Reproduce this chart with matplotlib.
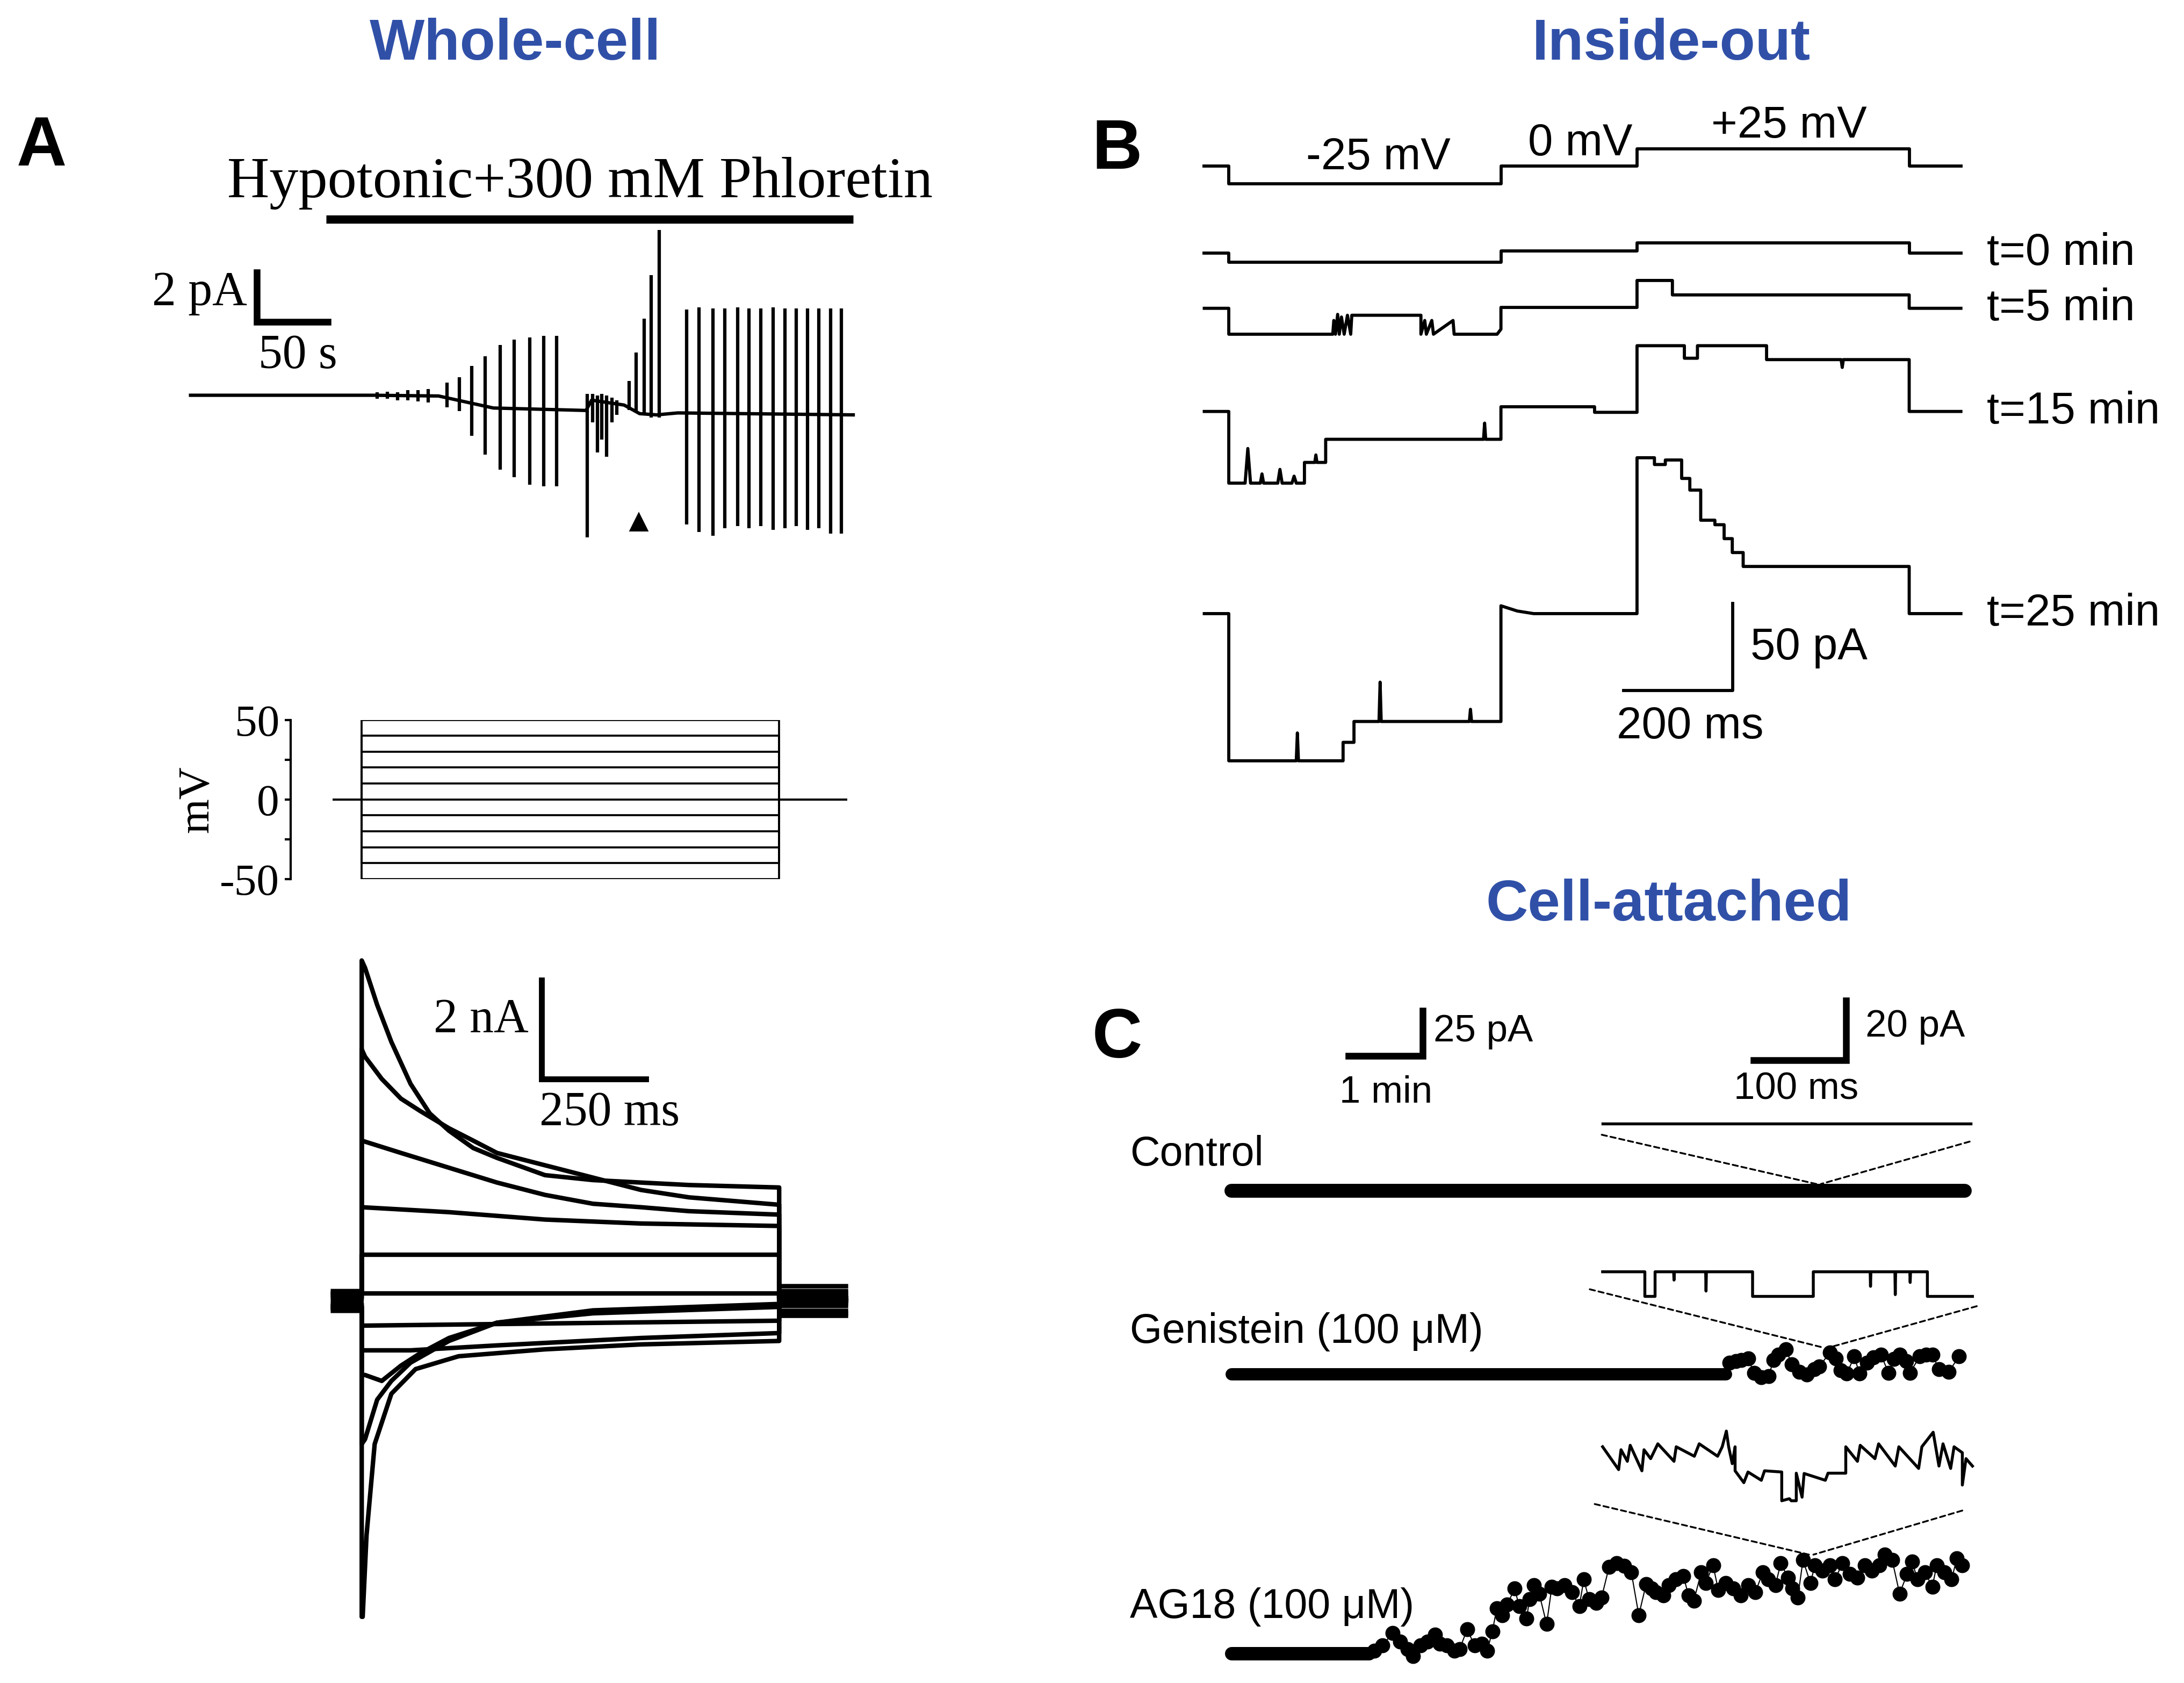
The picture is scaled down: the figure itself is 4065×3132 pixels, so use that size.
"""Patch-clamp figure: whole-cell, inside-out and cell-attached recordings."""

import matplotlib

matplotlib.use("Agg")
import matplotlib.pyplot as plt
from matplotlib.patches import ConnectionPatch

plt.rcParams["axes.unicode_minus"] = False

SERIF = "Liberation Serif"
SANS = "Liberation Sans"
BLUE = "#3050a8"

# ---------------- Panel A (top): ramp currents during hypotonic + phloretin (s, pA)
base_t = [0, 129.5, 175.6, 214.4, 280, 284, 307, 318, 330, 345, 469.2]
base_i = [0, 0, -0.03, -0.52, -0.62, -0.2, -0.4, -0.75, -0.8, -0.72, -0.8]

ramp_t = [132, 139.3, 146.5, 153.8, 161.1, 168.4,
          181.5, 190.2, 198.9, 208.6, 219.3, 229, 240.2, 249.9, 259.1,
          280.9, 284.8, 288.2, 291.1, 294.5, 298.4, 301.8,
          310.5, 315.4, 321.2, 326.1, 331.9,
          351.3, 360, 369.7, 378.4, 387.2, 395.4, 403.7, 412.4, 420.7, 428.9, 436.7, 444.9, 453.2, 460.9]
ramp_hi = [0.12, 0.15, 0.12, 0.2, 0.2, 0.25,
           0.51, 0.74, 1.2, 1.58, 2.05, 2.28, 2.35, 2.43, 2.43,
           0.05, 0.05, 0.0, 0.05, 0.0, -0.1, -0.2,
           0.58, 1.74, 3.12, 4.9, 6.74,
           3.5, 3.58, 3.55, 3.55, 3.58, 3.55, 3.55, 3.58, 3.55, 3.55, 3.55, 3.55, 3.55, 3.55]
ramp_lo = [-0.15, -0.15, -0.2, -0.2, -0.25, -0.3,
           -0.49, -0.65, -1.65, -2.42, -3.03, -3.34, -3.65, -3.72, -3.72,
           -5.8, -1.1, -2.34, -1.8, -2.5, -1.1, -0.8,
           -0.6, -0.7, -0.8, -0.9, -0.9,
           -5.26, -5.57, -5.72, -5.42, -5.34, -5.42, -5.34, -5.49, -5.42, -5.34, -5.49, -5.42, -5.65, -5.65]
drug_on = (96.1, 469.2)
marker_t, marker_i = 317.3, -5.18

# ---------------- Panel A (middle): voltage steps (ms, mV)
step_mv = [-50, -40, -30, -20, -10, 0, 10, 20, 30, 40, 50]

# ---------------- Panel A (bottom): current family (ms, nA), one trace per step
t_p50 = [0, 8, 37, 71, 117, 163, 209, 267, 324, 439, 554, 669, 784, 1000]
i_p50 = [6.9, 6.75, 6.0, 5.25, 4.4, 3.8, 3.45, 3.1, 2.9, 2.55, 2.45, 2.4, 2.35, 2.3]
t_p40 = [0, 8, 48, 94, 140, 209, 267, 324, 439, 554, 669, 784, 1000]
i_p40 = [5.1, 4.95, 4.5, 4.1, 3.85, 3.5, 3.25, 3.0, 2.75, 2.5, 2.25, 2.1, 1.95]
t_p30 = [0, 94, 209, 324, 439, 554, 669, 784, 1000]
i_p30 = [3.25, 3.0, 2.7, 2.4, 2.15, 1.97, 1.9, 1.82, 1.75]
t_p20 = [0, 209, 439, 669, 1000]
i_p20 = [1.9, 1.8, 1.65, 1.57, 1.52]
t_p10 = [0, 1000]
i_p10 = [0.94, 0.94]
t_0 = [0, 1000]
i_0 = [0.15, 0.15]
t_m10 = [0, 1000]
i_m10 = [-0.5, -0.4]
t_m20 = [0, 117, 324, 669, 1000]
i_m20 = [-1.0, -1.0, -0.9, -0.75, -0.65]
t_m30 = [0, 8, 48, 94, 140, 209, 324, 554, 1000]
i_m30 = [-1.5, -1.5, -1.62, -1.31, -1.06, -0.75, -0.44, -0.19, -0.06]
t_m40 = [0, 8, 37, 71, 117, 209, 324, 554, 1000]
i_m40 = [-2.9, -2.8, -2.0, -1.62, -1.25, -0.81, -0.44, -0.25, -0.12]
t_m50 = [0, 2.3, 11.5, 31, 71, 129, 232, 439, 669, 1000]
i_m50 = [-6.4, -6.4, -4.75, -2.9, -1.88, -1.38, -1.12, -0.98, -0.88, -0.81]
hold_pre = [-0.12, -0.2, -0.15, -0.1, -0.05, 0.0, 0.1, 0.05, 0.12, 0.15, 0.2]
hold_post = [-0.3, -0.25, -0.2, -0.1, -0.05, 0.0, 0.05, 0.1, 0.15, 0.2, 0.3]

# ---------------- Panel B: inside-out patch (ms, mV / pA)
b_proto_t = [-45, 0, 0, 500, 500, 750, 750, 1250, 1250, 1345]
b_proto_v = [0, 0, -25, -25, 0, 0, 25, 25, 0, 0]

b0_t = [-45, 0, 0, 500, 500, 750, 750, 1250, 1250, 1345]
b0_i = [0, 0, -5.3, -5.3, 1.3, 1.3, 5.9, 5.9, 0, 0]
b5_t = [-45, 0, 0, 191, 193, 196, 200, 203, 207, 212, 218, 224, 226, 353, 353, 360, 363, 373, 376,
        412, 414, 493, 500, 500, 750, 750, 815, 815, 1250, 1250, 1345]
b5_i = [0, 0, -14.9, -14.9, -7, -14.9, -3.5, -14.9, -5, -14.9, -4, -14.9, -4, -4, -14.9, -7, -14.9,
        -7, -14.9, -7, -14.9, -14.9, -12, 0.5, 0.5, 16, 16, 7.7, 7.7, 0, 0]
b15_t = [-45, 0, 0, 30, 35, 40, 58, 61, 64, 90, 94, 98, 116, 120, 124, 139, 139, 158, 160, 162, 178,
         178, 468, 470, 472, 500, 500, 672, 672, 750, 750, 837, 837, 861, 861, 988, 988, 1125, 1127,
         1129, 1250, 1250, 1345]
b15_i = [0, 0, -41.2, -41.2, -21.3, -41.2, -41.2, -35.9, -41.2, -41.2, -33.3, -41.2, -41.2, -37.2,
         -41.2, -41.2, -29.3, -29.3, -25, -29.3, -29.3, -16, -16, -6.7, -16, -16, 2.7, 2.7, -0.5,
         -0.5, 37.8, 37.8, 30.6, 30.6, 37.8, 37.8, 29.8, 29.8, 25.3, 29.8, 29.8, 0, 0]
b25_t = [-45, 0, 0, 124, 126, 128, 210, 210, 230, 230, 276, 278, 280, 442, 444, 446, 500, 500, 530,
         560, 750, 750, 782, 782, 802, 802, 832, 832, 847, 847, 867, 867, 893, 893, 910, 910, 925,
         925, 945, 945, 1250, 1250, 1345]
b25_i = [0, 0, -84.6, -84.6, -68.6, -84.6, -84.6, -74, -74, -62, -62, -39.4, -62, -62, -55, -62, -62,
         4.5, 1.5, 0, 0, 89.6, 89.6, 85.7, 85.7, 88.3, 88.3, 77.7, 77.7, 71, 71, 53.7, 53.7, 51.1,
         51.1, 43.1, 43.1, 35.1, 35.1, 27.1, 27.1, 0, 0]
b_labels = ["t=0 min", "t=5 min", "t=15 min", "t=25 min"]

# ---------------- Panel C: cell-attached (min, pA) and zoomed sweeps (ms, pA)
c_names = ["Control", "Genistein (100 \u03bcM)", "AG18 (100 \u03bcM)"]
c_flat_end = [9.87, 6.65, 1.85]
gen_t = [6.70, 6.79, 6.86, 6.95, 7.03, 7.13, 7.23, 7.29, 7.36, 7.46, 7.54, 7.64, 7.74, 7.84, 7.91,
         8.05, 8.13, 8.20, 8.28, 8.38, 8.45, 8.55, 8.64, 8.74, 8.84, 8.91, 8.99, 9.08, 9.13, 9.26,
         9.35, 9.43, 9.52, 9.65, 9.79]
gen_i = [6.4, 7.4, 7.9, 8.9, 0.8, -1.7, -1.2, 7.9, 10.9, 14.0, 5.4, 1.3, -0.2, 2.8, 4.3,
         12.0, 8.9, 2.3, 0.3, 9.9, 0.3, 6.4, 9.4, 10.9, 0.8, 8.4, 10.9, 7.4, 0.8, 9.9,
         10.9, 10.9, 2.8, 1.3, 9.9]
ag_t = [1.92, 2.03, 2.17, 2.27, 2.37, 2.44, 2.54, 2.64, 2.74, 2.8, 2.9, 3.0, 3.07, 3.17, 3.27, 3.37,
        3.44, 3.51, 3.57, 3.64, 3.71, 3.81, 3.87, 3.97, 4.01, 4.07, 4.14, 4.24, 4.31, 4.38, 4.48,
        4.58, 4.68, 4.74, 4.81, 4.91, 4.98, 5.08, 5.18, 5.28, 5.38, 5.48, 5.58, 5.65, 5.71, 5.81,
        5.88, 5.98, 6.08, 6.15, 6.22, 6.32, 6.38, 6.48, 6.55, 6.65, 6.75, 6.85, 6.95, 7.05, 7.15,
        7.22, 7.32, 7.39, 7.49, 7.55, 7.62, 7.69, 7.79, 7.85, 7.95, 8.05, 8.12, 8.22, 8.32, 8.42,
        8.52, 8.62, 8.72, 8.79, 8.89, 8.99, 9.09, 9.16, 9.23, 9.33, 9.43, 9.49, 9.59, 9.69, 9.76,
        9.83]
ag_i = [1.5, 4.4, 11.3, 6.4, 2.4, -1.6, 4.4, 6.4, 10.3, 5.4, 4.4, 1.4, 2.4, 13.3, 4.4, 5.4, 1.4,
        12.3, 25.2, 21.3, 27.2, 36.1, 26.2, 19.3, 30.2, 38.1, 33.2, 16.3, 37.1, 36.1, 38.1, 34.2,
        26.2, 41.1, 30.2, 28.2, 31.2, 48.1, 50.1, 48.6, 45.1, 21.3, 38.6, 36.1, 34.2, 32.2, 38.1,
        41.1, 43.1, 32.2, 29.2, 45.1, 39.1, 49.1, 35.2, 39.1, 36.1, 32.2, 38.1, 34.2, 45.1, 41.1,
        38.1, 50.1, 42.1, 36.1, 31.2, 52.0, 39.1, 49.1, 46.1, 49.1, 41.1, 50.1, 44.1, 42.1, 49.1,
        46.1, 49.1, 55.0, 52.0, 33.2, 44.1, 51.0, 41.1, 45.1, 37.1, 49.1, 45.1, 41.1, 53.0, 49.1]
zoom_from = [7.9, 8.0, 7.8]

ctrl_zt = [0, 400]
ctrl_zi = [0, 0]
gen_zt = [0, 45.9, 45.9, 57, 57, 77.2, 77.6, 78.0, 112, 112.4, 112.8, 163, 163, 229, 229, 290.8,
          291.2, 291.6, 317.7, 318.1, 318.5, 333.9, 334.3, 334.7, 353, 353, 402]
gen_zi = [0, 0, -8.3, -8.3, 0, 0, -2.8, 0, 0, -6.5, 0, 0, -8.3, -8.3, 0, 0, -4.9, 0, 0, -7.7, 0, 0,
          -3.6, 0, 0, -8.3, -8.3]
ag_zt = [0, 17.4, 20, 26.9, 30, 42.7, 45, 52.2, 60, 77.6, 80, 99.7, 105, 125, 130, 134.5, 137, 140.9,
         144, 144, 153.5, 158, 172.5, 176, 194.7, 194.7, 203, 205, 210.5, 210.5, 216.8, 219, 242.1,
         245, 264.3, 264.3, 277, 280, 296, 300, 318.1, 322, 343.5, 347, 359.3, 362, 365.6, 370,
         378.3, 382, 391, 391, 395, 402]
ag_zi = [0, -7.7, -1, -4.9, 0.5, -8.1, -1, -4.0, 1, -4.9, 0, -3.2, 1, -3.2, 0, 5.3, 0, -5.7, 0, -8.1,
         -12.1, -8.5, -11.3, -8.1, -8.5, -18.2, -17.5, -18.2, -18.2, -8.9, -17, -9, -11.3, -8.9,
         -8.9, 0, -4.9, 0.5, -4.0, 1, -6.5, 0, -7.3, 0, 4.9, 0, -6.5, 1, -7.3, 0, -2, -12.9, -4,
         -6.5]

# ---------------- layout (reference frame 1568 x 1208)
W, H = 1568.0, 1208.0
fig = plt.figure(figsize=(4065 / 300, 3132 / 300), dpi=300)


def place(xlim, ylim, x0, sx, y0, sy, off=True):
    left = x0 + xlim[0] * sx
    right = x0 + xlim[1] * sx
    top = y0 - ylim[1] * sy
    bottom = y0 - ylim[0] * sy
    ax = fig.add_axes([left / W, 1 - bottom / H, (right - left) / W, (bottom - top) / H])
    ax.set_xlim(*xlim)
    ax.set_ylim(*ylim)
    ax.patch.set_alpha(0)
    if off:
        ax.axis("off")
    return ax


# titles and panel letters
for x, y, s in [(370, 32, "Whole-cell"), (1200, 32, "Inside-out"), (1198, 650, "Cell-attached")]:
    fig.text(x / W, 1 - y / H, s, ha="center", va="center", fontsize=26, fontweight="bold",
             color=BLUE, family=SANS)
for x, y, s in [(30, 106, "A"), (802, 108, "B"), (802, 746, "C")]:
    fig.text(x / W, 1 - y / H, s, ha="center", va="center", fontsize=31, fontweight="bold",
             family=SANS)

# ---- A top
ax = place((-15, 490), (-7, 10), 136.8, 1.014, 283.7, 17.6)
ax.plot(base_t, base_i, color="k", lw=1.5)
ax.vlines(ramp_t, ramp_lo, ramp_hi, color="k", lw=1.5)
ax.plot([marker_t], [marker_i], marker="^", color="k", ms=7)
ax.plot(drug_on, [7.17, 7.17], color="k", lw=3.7, solid_capstyle="butt")
ax.text(275.6, 8.65, "Hypotonic+300 mM Phloretin", ha="center", va="center", fontsize=26,
        family=SERIF)
ax.plot([47, 47, 97], [5, 3, 3], color="k", lw=3, solid_joinstyle="miter")
ax.text(40, 4.15, "2 pA", ha="right", va="center", fontsize=21.5, family=SERIF)
ax.text(76, 1.6, "50 s", ha="center", va="center", fontsize=21.5, family=SERIF)

# ---- A middle: voltage protocol
ax = place((-170, 1200), (-50, 50), 259.7, 0.2997, 573.8, 1.142, off=False)
for v in step_mv:
    ax.plot([-67, 0, 0, 1000, 1000, 1161], [0, 0, v, v, 0, 0], color="k", lw=0.9)
for s in ["top", "right", "bottom"]:
    ax.spines[s].set_visible(False)
ax.spines["left"].set_linewidth(1.0)
ax.set_xticks([])
ax.set_yticks([-50, 0, 50])
ax.set_yticks([-25, 25], minor=True)
ax.tick_params(axis="y", which="both", direction="out", length=2.6, width=1.0, pad=2.5,
               labelsize=20)
for lab in ax.get_yticklabels():
    lab.set_family(SERIF)
ax.text(-394, 0, "mV", rotation=90, ha="center", va="center", fontsize=20, family=SERIF)

# ---- A bottom: current family
ax = place((-170, 1200), (-7.2, 7.2), 259.7, 0.2997, 933.8, 35.42)
fam_t = [t_m50, t_m40, t_m30, t_m20, t_m10, t_0, t_p10, t_p20, t_p30, t_p40, t_p50]
fam_i = [i_m50, i_m40, i_m30, i_m20, i_m10, i_0, i_p10, i_p20, i_p30, i_p40, i_p50]
for tt, ii, pre, post in zip(fam_t, fam_i, hold_pre, hold_post):
    ax.plot([-69, 0] + tt + [1000, 1160], [pre, pre] + ii + [post, post], color="k", lw=2,
            solid_joinstyle="round")
ax.plot([431, 431, 681], [6.5, 4.5, 4.5], color="k", lw=2.6, solid_joinstyle="miter")
ax.text(399, 5.69, "2 nA", ha="right", va="center", fontsize=21.5, family=SERIF)
ax.text(594, 3.8, "250 ms", ha="center", va="center", fontsize=21.5, family=SERIF)

# ---- B protocol
ax = place((-60, 1360), (-40, 70), 882.2, 0.3908, 119.3, 0.498)
ax.plot(b_proto_t, b_proto_v, color="k", lw=1.4)
ax.text(275, 13, "-25 mV", ha="center", va="center", fontsize=20, family=SANS)
ax.text(646, 33, "0 mV", ha="center", va="center", fontsize=20, family=SANS)
ax.text(1029, 58, "+25 mV", ha="center", va="center", fontsize=20, family=SANS)

# ---- B traces
ax = place((-60, 1360), (-305, 30), 882.2, 0.3908, 181.7, 1.2487)
b_offsets = [0, -31.7, -91.0, -207.2]
for tt, ii, off, lab in zip([b0_t, b5_t, b15_t, b25_t], [b0_i, b5_i, b15_i, b25_i], b_offsets,
                            b_labels):
    ax.plot(tt, [v + off for v in ii], color="k", lw=1.4)
    ax.text(1393, off, lab, ha="left", va="center", fontsize=20, family=SANS)
ax.plot([725.6, 925.6, 925.6], [-251.3, -251.3, -201.3], color="k", lw=1.4)
ax.text(958, -226.6, "50 pA", ha="left", va="center", fontsize=20, family=SANS)
ax.text(847.6, -272, "200 ms", ha="center", va="center", fontsize=20, family=SANS)

# ---- C main time courses
axc = place((-1.6, 10.3), (-275, 110), 884.2, 53.35, 854.6, 1.287)
c_offsets = [0, -102.4, -258.0]
c_lab_y = [20.1, 23.8, 25.7]
for end, off, name, ly, lw in zip(c_flat_end, c_offsets, c_names, c_lab_y, [6.2, 5.5, 6.0]):
    axc.plot([0, end], [off, off], color="k", lw=lw, solid_capstyle="round")
    axc.text(-1.37, off + ly, name, ha="left", va="center", fontsize=18.5, family=SANS)
axc.plot(gen_t, [v + c_offsets[1] for v in gen_i], "o-", color="k", ms=5.7, lw=0.5)
axc.plot(ag_t, [v + c_offsets[2] for v in ag_i], "o-", color="k", ms=5.7, lw=0.5)
axc.plot([1.571, 2.571, 2.571], [75.2, 75.2, 100.2], color="k", lw=3, solid_joinstyle="miter")
axc.text(2.72, 88.7, "25 pA", ha="left", va="center", fontsize=17, family=SANS)
axc.text(2.08, 54.5, "1 min", ha="center", va="center", fontsize=17, family=SANS)

# ---- C zoomed sweeps
axz = place((-20, 420), (-135, 50), 1150.6, 0.6605, 806.6, 2.129)
z_offsets = [0, -49.9, -108.9]
for tt, ii, off in zip([ctrl_zt, gen_zt, ag_zt], [ctrl_zi, gen_zi, ag_zi], z_offsets):
    axz.plot(tt, [v + off for v in ii], color="k", lw=1.3)
axz.plot([164.4, 264.4, 264.4], [21.5, 21.5, 41.5], color="k", lw=3, solid_joinstyle="miter")
axz.text(285.9, 32.6, "20 pA", ha="left", va="center", fontsize=17, family=SANS)
axz.text(210.5, 11.5, "100 ms", ha="center", va="center", fontsize=17, family=SANS)

# dashed lines linking each zoomed sweep to its place in the time course
z_left = [(-1, -3.7), (-14, -55.8), (-8.6, -128.2)]
z_right = [(399, -6.0), (406.7, -61.5), (391, -130.4)]
z_top = [3.7, 14.8, 55.0]
for zl, zr, tz, top, off in zip(z_left, z_right, zoom_from, z_top, c_offsets):
    for a, b in [(zl, (tz - 0.03, top + off)), (zr, (tz + 0.03, top + off))]:
        con = ConnectionPatch(xyA=a, coordsA=axz.transData, xyB=b, coordsB=axc.transData,
                              color="k", lw=0.8, ls=(0, (3, 2)))
        fig.add_artist(con)

fig.savefig("out.png", dpi=300)
